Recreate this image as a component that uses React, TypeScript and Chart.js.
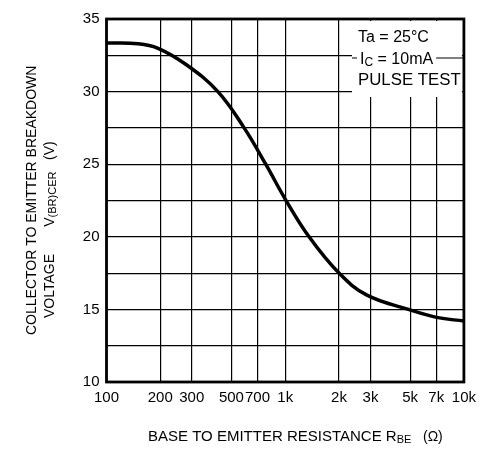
import React, { useEffect, useRef } from "react";
import { Chart, registerables } from "chart.js";

Chart.register(...registerables);

// Data (R_BE in ohms, V(BR)CER in volts)
const resistance = [100, 150, 193, 280, 420, 589, 778, 1000, 1360, 2000, 2850, 4900, 7030, 10000];
const voltage = [33.35, 33.3, 33.0, 31.85, 30.0, 27.5, 25.0, 22.6, 20.0, 17.5, 16.0, 15.0, 14.45, 14.2];

const xTickValues = [100, 200, 300, 500, 700, 1000, 2000, 3000, 5000, 7000, 10000];
const xTickLabels = ["100", "200", "300", "500", "700", "1k", "2k", "3k", "5k", "7k", "10k"];
const yLabelValues = [10, 15, 20, 25, 30, 35];

const FONT = "'Liberation Sans', Arial, Helvetica, sans-serif";

type Run = { text: string; size: number; dy?: number };

function drawRuns(ctx: CanvasRenderingContext2D, runs: Run[], x: number, y: number, scaleX = 1) {
  ctx.save();
  ctx.translate(x, y);
  ctx.scale(scaleX, 1);
  let cx = 0;
  for (const r of runs) {
    ctx.font = `${r.size}px ${FONT}`;
    ctx.fillText(r.text, cx, r.dy || 0);
    cx += ctx.measureText(r.text).width;
  }
  ctx.restore();
  return cx * scaleX;
}

const decorPlugin = {
  id: "decor",
  afterDraw(chart: any) {
    const ctx: CanvasRenderingContext2D = chart.ctx;
    const a = chart.chartArea;
    ctx.save();
    // annotation box (white background covering grid)
    ctx.fillStyle = "#fff";
    ctx.fillRect(352, a.top + 2, a.right - 2 - 352, 95 - a.top);

    ctx.fillStyle = "#000";
    ctx.textBaseline = "middle";
    ctx.textAlign = "left";
    drawRuns(ctx, [{ text: "Ta = 25°C", size: 16 }], 358, 38, 1.0);
    const w = drawRuns(
      ctx,
      [{ text: "I", size: 16 }, { text: "C", size: 12, dy: 3 }, { text: " = 10mA", size: 16 }],
      360,
      60,
      1.0
    );
    ctx.strokeStyle = "#000";
    ctx.lineWidth = 1.2;
    ctx.beginPath();
    ctx.moveTo(352, 58);
    ctx.lineTo(357, 58);
    ctx.moveTo(360 + w + 3, 58);
    ctx.lineTo(a.right, 58);
    ctx.stroke();
    drawRuns(ctx, [{ text: "PULSE TEST", size: 16 }], 358, 81, 1.05);

    // frame
    ctx.lineWidth = 2.8;
    ctx.strokeRect(a.left, a.top, a.right - a.left, a.bottom - a.top);

    // x-axis title
    drawRuns(
      ctx,
      [
        { text: "BASE TO EMITTER RESISTANCE R", size: 15 },
        { text: "BE", size: 11, dy: 3 },
        { text: "   (Ω)", size: 14 },
      ],
      148,
      437,
      1.0
    );

    // y-axis title (rotated)
    ctx.save();
    ctx.translate(32, 335);
    ctx.rotate(-Math.PI / 2);
    drawRuns(ctx, [{ text: "COLLECTOR TO EMITTER BREAKDOWN", size: 14 }], 0, 0, 1.0);
    ctx.restore();

    ctx.save();
    ctx.translate(50, 318);
    ctx.rotate(-Math.PI / 2);
    drawRuns(
      ctx,
      [
        { text: "VOLTAGE       V", size: 14 },
        { text: "(BR)CER", size: 11, dy: 3 },
        { text: "   (V)", size: 14 },
      ],
      0,
      0,
      1.0
    );
    ctx.restore();
    ctx.restore();
  },
};

export default function App() {
  const ref = useRef<HTMLCanvasElement>(null);

  useEffect(() => {
    if (!ref.current) return;
    const points = resistance.map((r, i) => ({ x: r, y: voltage[i] }));
    const chart = new Chart(ref.current, {
      type: "line",
      data: {
        datasets: [
          {
            data: points,
            borderColor: "#000",
            borderWidth: 3.5,
            pointRadius: 0,
            tension: 0.4,
            fill: false,
          },
        ],
      },
      options: {
        animation: false,
        responsive: false,
        maintainAspectRatio: false,
        layout: { padding: { left: 0, top: 19, right: 17.5, bottom: 0 } },
        plugins: { legend: { display: false }, tooltip: { enabled: false } },
        scales: {
          x: {
            type: "logarithmic",
            min: 100,
            max: 10000,
            afterBuildTicks: (scale: any) => {
              scale.ticks = xTickValues.map((v) => ({ value: v }));
            },
            afterFit: (scale: any) => {
              scale.height = 77;
            },
            ticks: {
              autoSkip: false,
              maxRotation: 0,
              padding: 7,
              color: "#000",
              font: { family: FONT, size: 15 },
              callback: (v: any) => {
                const i = xTickValues.indexOf(Number(v));
                return i >= 0 ? xTickLabels[i] : "";
              },
            },
            grid: { color: "#000", lineWidth: 1.2, drawTicks: false },
            border: { display: false },
          },
          y: {
            type: "linear",
            min: 10,
            max: 35,
            afterFit: (scale: any) => {
              scale.width = 106.5;
            },
            ticks: {
              stepSize: 2.5,
              padding: 7,
              color: "#000",
              font: { family: FONT, size: 15 },
              callback: (v: any) => (yLabelValues.includes(Number(v)) ? String(v) : ""),
            },
            grid: { color: "#000", lineWidth: 1.2, drawTicks: false },
            border: { display: false },
          },
        },
      },
      plugins: [decorPlugin],
    });
    return () => chart.destroy();
  }, []);

  return (
    <div style={{ position: "fixed", left: 0, top: 0, width: 483, height: 459, background: "#fff" }}>
      <canvas ref={ref} width={483} height={459} style={{ width: 483, height: 459 }} />
    </div>
  );
}
